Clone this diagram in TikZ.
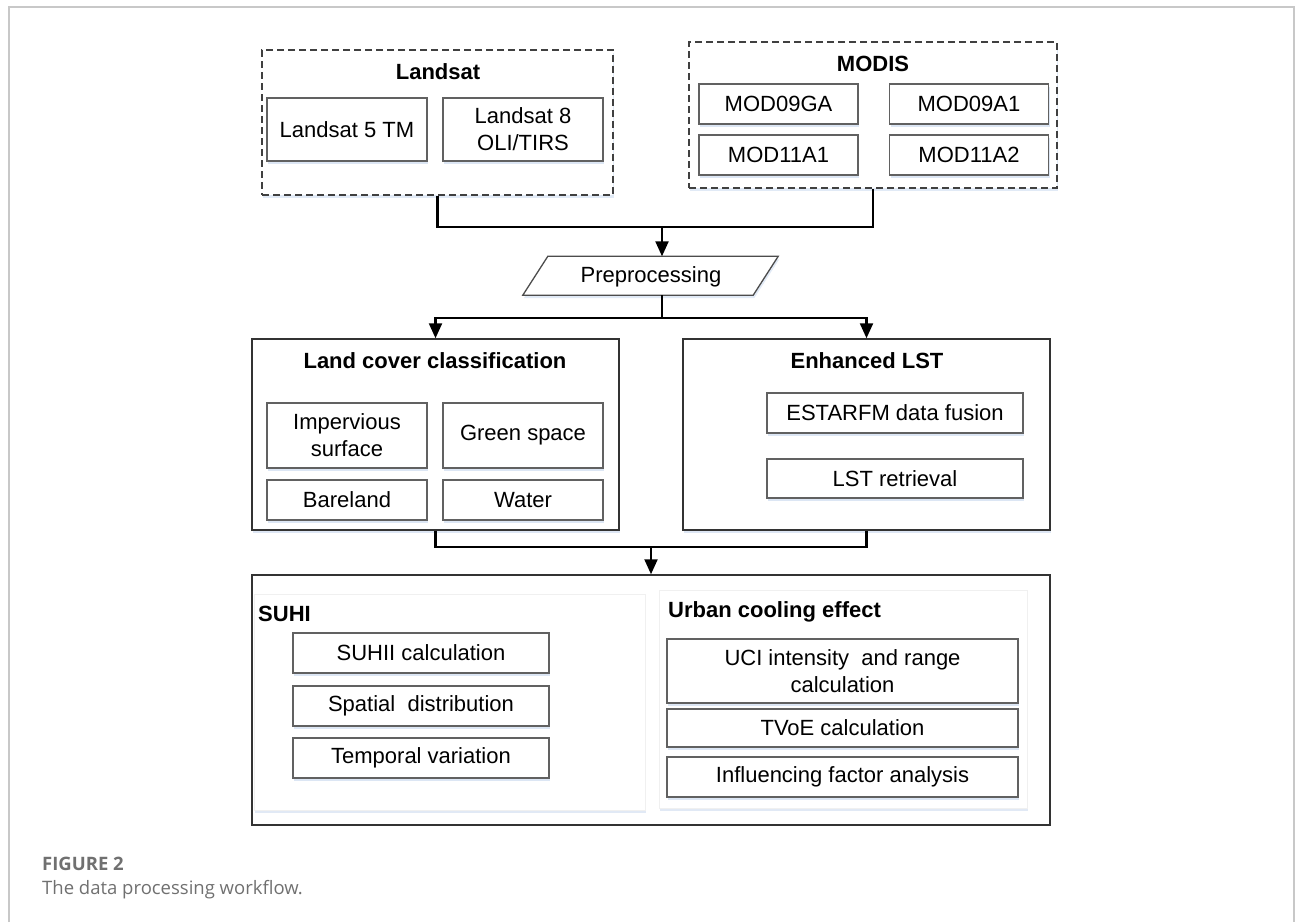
\documentclass[tikz,border=0pt]{standalone}
\usepackage{fontspec}
\setmainfont{Liberation Sans}
\newfontfamily\capfont{Open Sans}
\usetikzlibrary{arrows.meta,shadows,calc}
\definecolor{framegray}{HTML}{C8C8C8}
\definecolor{capgray}{HTML}{707070}
\definecolor{shadowblue}{HTML}{9DB8E0}
\newcommand{\bodyfont}{\fontsize{22}{27}\selectfont}
\tikzset{
  ibox/.style={draw=black!62, line width=1.2pt, fill=white, align=center, inner sep=2pt,
    drop shadow={shadow xshift=1pt, shadow yshift=-2.5pt, fill=shadowblue, opacity=0.35}},
  obox/.style={draw=black!80, line width=1.5pt, fill=white,
    drop shadow={shadow xshift=1pt, shadow yshift=-3pt, fill=shadowblue, opacity=0.35}},
  dbox/.style={draw=black!75, line width=1.5pt, dash pattern=on 7pt off 4pt, fill=white,
    drop shadow={shadow xshift=1pt, shadow yshift=-3pt, fill=shadowblue, opacity=0.3}},
  panel/.style={draw=black!6, line width=0.8pt, fill=white,
    drop shadow={shadow xshift=1pt, shadow yshift=-3pt, fill=shadowblue, opacity=0.3}},
  conn/.style={line width=2.2pt, draw=black},
  arr/.style={conn, -{Triangle[width=13pt,length=15pt]}},
  ttl/.style={font=\bodyfont\bfseries, anchor=base, inner sep=0pt},
  lttl/.style={font=\bodyfont\bfseries, anchor=base west, inner sep=0pt},
  captext/.style={text=capgray, anchor=base west, inner sep=0pt},
}
\begin{document}
\begin{tikzpicture}[x=1pt, y=-1pt, font=\bodyfont]
\useasboundingbox (0,0) rectangle (1295,922);
% page frame
\draw[framegray, line width=2pt] (9,922) -- (9,7) -- (1293.5,7) -- (1293.5,922);

% Landsat group
\node[dbox, minimum width=351pt, minimum height=145pt] (landsat) at (437.5,122.5) {};
\node[ttl] (landsatT) at (438,79.3) {Landsat};
\node[ibox, minimum width=160pt, minimum height=63pt] (ls5) at (347,129.5) {Landsat 5 TM};
\node[ibox, minimum width=160pt, minimum height=63pt] (ls8) at (523,129.5) {Landsat 8\\OLI/TIRS};

% MODIS group
\node[dbox, minimum width=368pt, minimum height=146pt] (modis) at (873,115) {};
\node[ttl] (modisT) at (873,71.7) {MODIS};
\node[ibox, minimum width=159pt, minimum height=40pt] (m09ga) at (778.5,104) {MOD09GA};
\node[ibox, minimum width=159pt, minimum height=40pt] (m09a1) at (969,104) {MOD09A1};
\node[ibox, minimum width=159pt, minimum height=40pt] (m11a1) at (778.5,155) {MOD11A1};
\node[ibox, minimum width=159pt, minimum height=40pt] (m11a2) at (969,155) {MOD11A2};

% Preprocessing
\node[minimum width=255pt, minimum height=38.5pt, inner sep=0pt] (pre) at (650.5,275.75) {};
\fill[shadowblue, opacity=0.3] ($(pre.south west)+(1,3)$) -- ($(pre.north west)+(26,3)$) -- ($(pre.north east)+(1,3)$) -- ($(pre.south east)+(-24,3)$) -- cycle;
\draw[draw=black!70, line width=1.3pt, fill=white] (pre.south west) -- ($(pre.north west)+(25,0)$) -- (pre.north east) -- ($(pre.south east)+(-25,0)$) -- cycle;
\node[inner sep=0pt] (preT) at (651,277) {Preprocessing};

% Land cover classification
\node[obox, minimum width=367pt, minimum height=191pt] (lcc) at (435.5,434.5) {};
\node[ttl] (lccT) at (435,368) {Land cover classification};
\node[ibox, minimum width=160pt, minimum height=65pt] (imp) at (347,435.5) {Impervious\\surface};
\node[ibox, minimum width=160pt, minimum height=65pt] (green) at (523,435.5) {Green space};
\node[ibox, minimum width=160pt, minimum height=40pt] (bare) at (347,500) {Bareland};
\node[ibox, minimum width=160pt, minimum height=40pt] (water) at (523,500) {Water};

% Enhanced LST
\node[obox, minimum width=367pt, minimum height=191pt] (elst) at (866.5,434.5) {};
\node[ttl] (elstT) at (867,368) {Enhanced LST};
\node[ibox, minimum width=256pt, minimum height=40pt] (estar) at (895,413) {ESTARFM data fusion};
\node[ibox, minimum width=256pt, minimum height=39pt] (lstr) at (895,478.5) {LST retrieval};

% Bottom box
\node[draw=black!80, line width=1.5pt, fill=white, minimum width=798pt, minimum height=250pt] (res) at (651,700) {};
\node[panel, minimum width=391pt, minimum height=216pt] (suhiP) at (449.5,702) {};
\node[panel, minimum width=368pt, minimum height=218pt] (uceP) at (843,699) {};
\node[lttl] (suhiT) at (258,621) {SUHI};
\node[ibox, minimum width=256pt, minimum height=40pt] (suhii) at (421,653) {SUHII calculation};
\node[ibox, minimum width=256pt, minimum height=40pt] (spat) at (421,706) {Spatial~ distribution};
\node[ibox, minimum width=256pt, minimum height=40pt] (temp) at (421,758) {Temporal variation};
\node[lttl] (uceT) at (668,617.7) {Urban cooling effect};
\node[ibox, minimum width=351pt, minimum height=64pt] (uci) at (842.5,671) {UCI intensity~ and range\\calculation};
\node[ibox, minimum width=351pt, minimum height=38pt] (tvoe) at (842.5,728) {TVoE calculation};
\node[ibox, minimum width=351pt, minimum height=40pt] (infl) at (842.5,777) {Influencing factor analysis};

% connectors
\coordinate (j1) at (662,227);
\coordinate (j2) at (662,318);
\coordinate (j3) at (651,547);
\draw[conn] (landsat.south) |- (j1) -| (modis.south);
\draw[arr] (j1) -- (j1 |- pre.north);
\draw[conn] (j1 |- pre.south) -- (j2);
\draw[arr] (j2) -| (lcc.north);
\draw[arr] (j2) -| (elst.north);
\draw[conn] (lcc.south) |- (j3) -| (elst.south);
\draw[arr] (j3) -- (res.north);

% caption
\node[captext, font=\capfont\bfseries\fontsize{18.5}{22}\selectfont] (figT) at (42,870) {FIGURE 2};
\node[captext, font=\capfont\fontsize{18.5}{22}\selectfont] (capT) at (42,894) {The data processing workflow.};
\end{tikzpicture}
\end{document}
